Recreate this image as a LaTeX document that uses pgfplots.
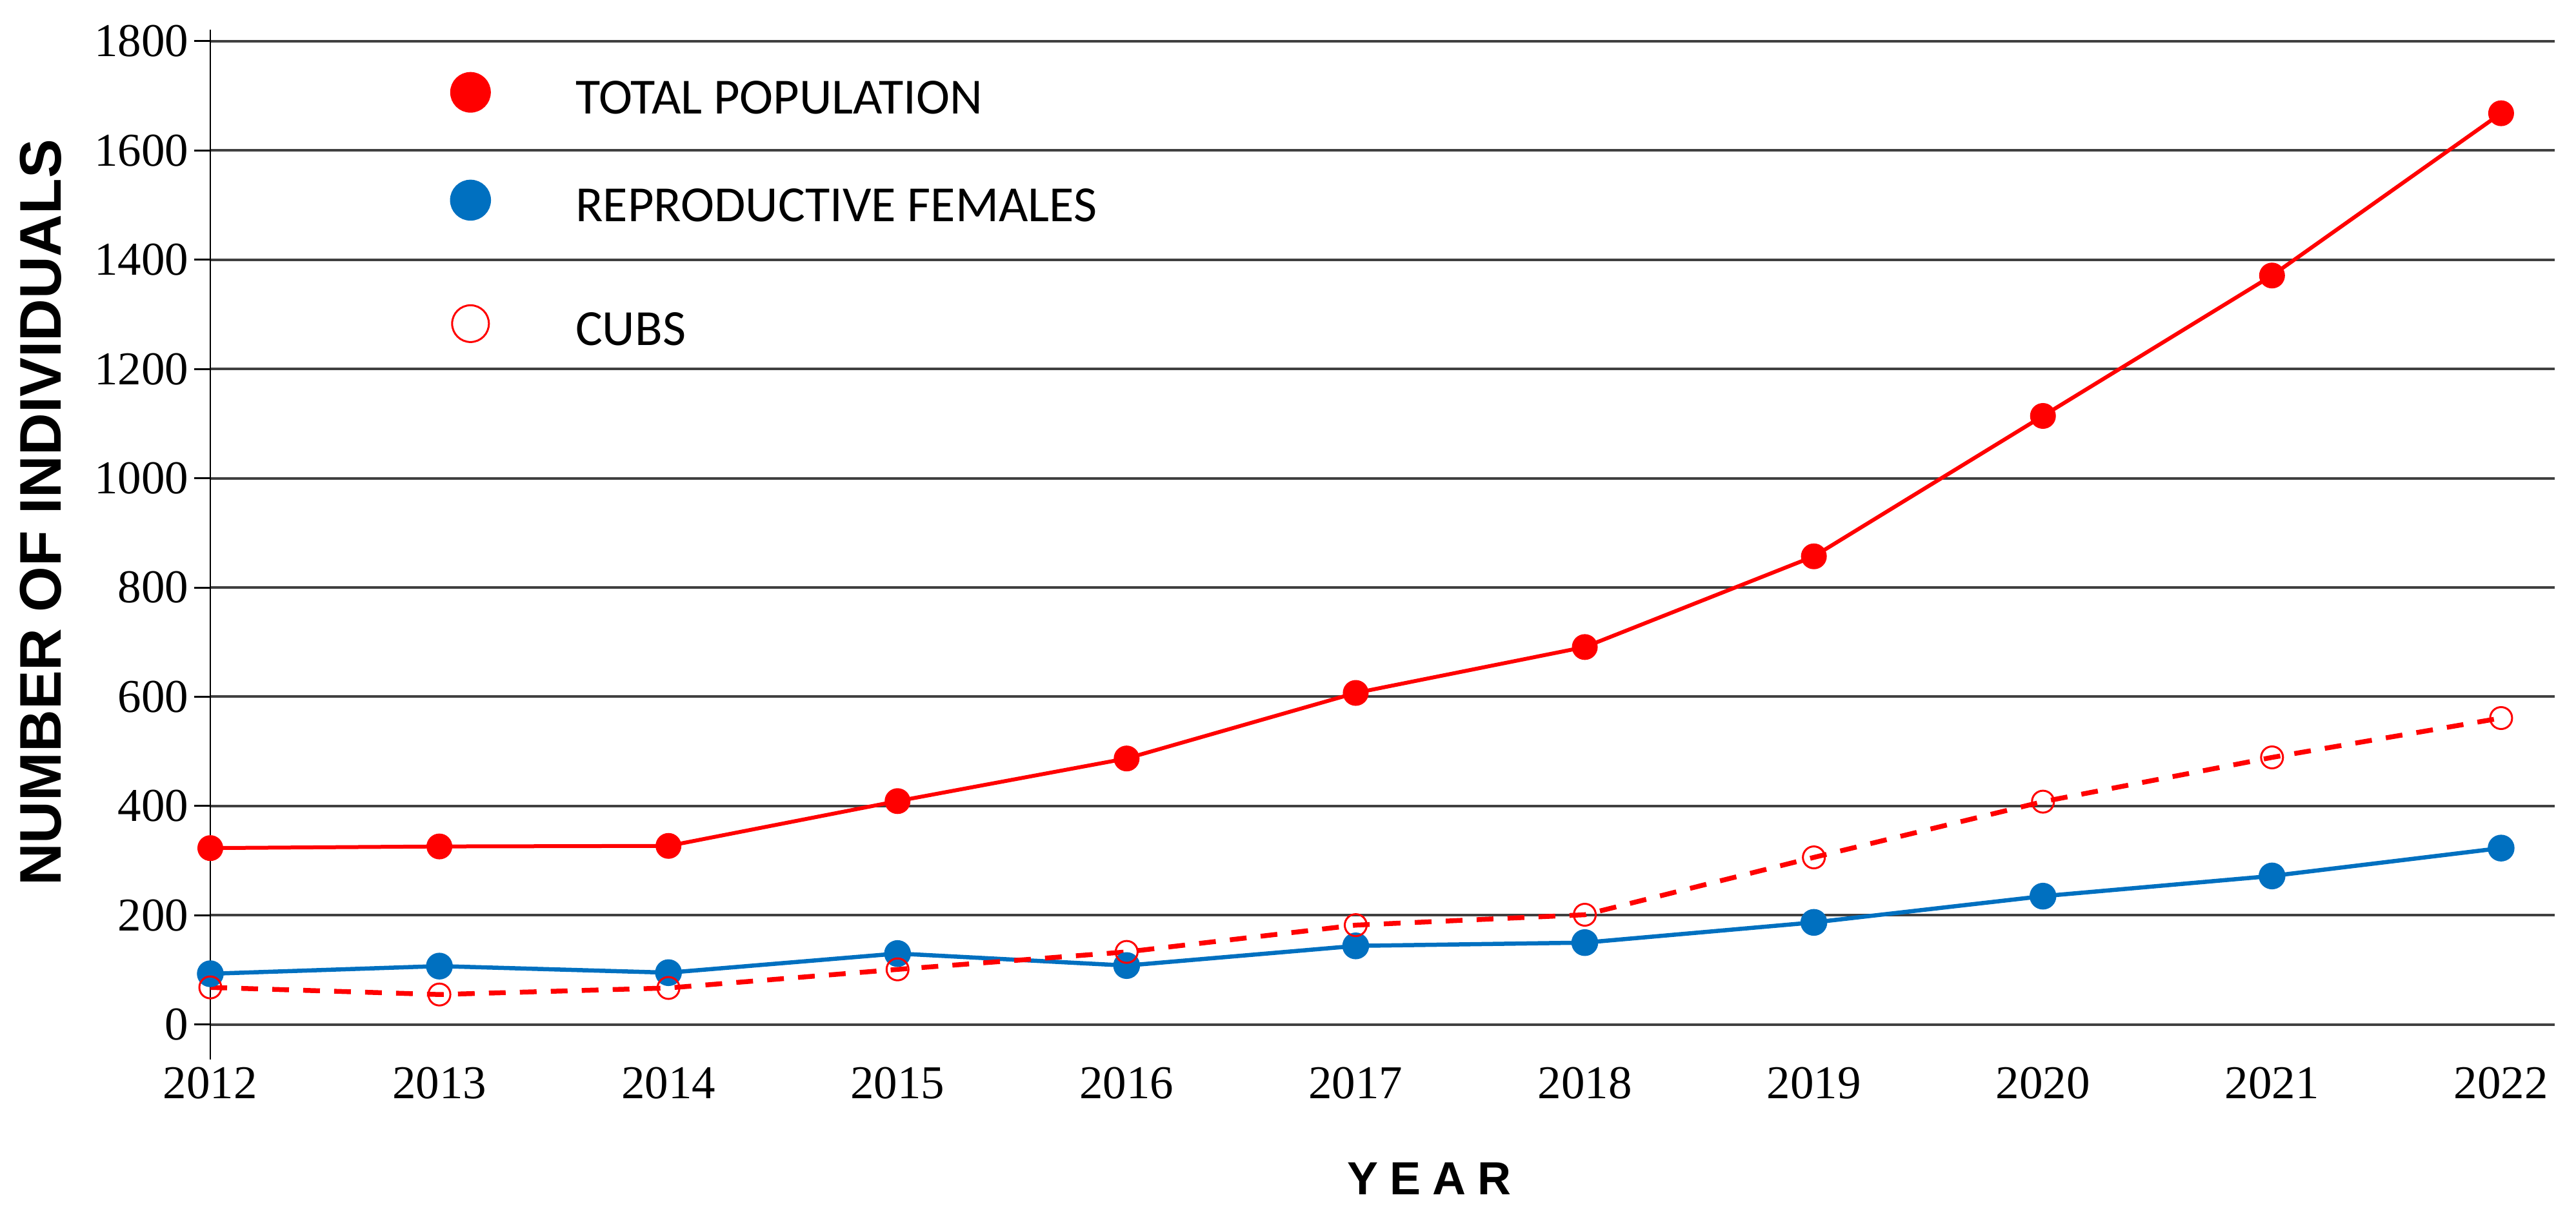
\documentclass[border=0pt]{standalone}
\usepackage{fontspec}
\setmainfont{Liberation Serif}
\newfontfamily\carlito{Carlito}
\newfontfamily\sansb{Liberation Sans}
\usepackage{pgfplots}
\pgfplotsset{compat=1.18}
\definecolor{tred}{HTML}{FF0000}
\definecolor{fblue}{HTML}{0070C0}
\definecolor{gridc}{HTML}{404040}
\pgfplotsset{
  stdlegend/.style={legend image code/.code={\draw[##1, mark size=5.7pt] plot coordinates {(0pt,2.3pt)}; \path (-6pt,2.3pt) (31.8pt,2.3pt);}},
  cubslegend/.style={legend image code/.code={\draw[##1, mark size=5.7pt] plot coordinates {(0pt,2.3pt)}; \path (-6pt,2.3pt) (31.8pt,2.3pt) (0pt,12.1pt);}},
}

\begin{document}
\begin{tikzpicture}
\path[use as bounding box] (0,0) rectangle (798.6pt,376pt);
\begin{axis}[
  at={(65.2pt,47.4pt)}, anchor=south west,
  scale only axis, width=726.8pt, height=319.4pt,
  xmin=2012, xmax=2022.234, ymin=-64, ymax=1821,
  clip=false,
  axis y line*=left, axis x line*=bottom,
  x axis line style={draw=none},
  y axis line style={black, line width=0.5pt, -},
  xtick={2012,2013,...,2022}, ytick={0,200,...,1800},
  xtick style={draw=none},
  ytick style={black, line width=0.6pt},
  tick align=outside, major tick length=5pt,
  ymajorgrids, major grid style={gridc, line width=0.8pt},
  /pgf/number format/1000 sep={},
  /pgf/number format/assume math mode=true,
  ticklabel style={font=\fontsize{14.6}{17}\selectfont},
  yticklabel style={anchor=east, inner sep=0pt, xshift=-1.6pt},
  xticklabel style={anchor=north, inner sep=0pt, yshift=2.8pt},
  xlabel={Y\hspace{3.6pt}E\hspace{3.6pt}A\hspace{3.6pt}R},
  every axis x label/.style={at={([yshift=-36.9pt]axis cs:2017.32,-64)}, anchor=center, inner sep=0pt, font=\sansb\bfseries\fontsize{14.4}{16}\selectfont},
  ylabel={NUMBER OF INDIVIDUALS},
  every axis y label/.style={at={([xshift=-52.5pt]axis cs:2012,937)}, rotate=90, anchor=center, inner sep=0pt, font=\sansb\bfseries\fontsize{18.2}{20}\selectfont},
  legend style={at={(0.1017,0.957)}, anchor=north west, draw=none, fill=none, inner sep=0pt, outer sep=0pt, row sep=19.6pt, column sep=0pt, font=\carlito\fontsize{15.7}{18}\selectfont, nodes={inner sep=0pt}},
  legend cell align=left,
  stdlegend,
]
\addplot[tred, line width=1.2pt, mark=*, mark size=3.4pt] coordinates {
(2012,323) (2013,326) (2014,327) (2015,409) (2016,487) (2017,607) (2018,691) (2019,857) (2020,1114) (2021,1371) (2022,1668)};
\addlegendentry{TOTAL POPULATION}
\addplot[fblue, line width=1.3pt, mark=*, mark size=3.5pt] coordinates {
(2012,93) (2013,107) (2014,95) (2015,130) (2016,108) (2017,144) (2018,150) (2019,187) (2020,235) (2021,272) (2022,323)};
\addlegendentry{REPRODUCTIVE FEMALES}
\addplot[tred, line width=1.5pt, dash pattern=on 5.2pt off 4.4pt, mark=o, mark size=3.4pt, mark options={solid, line width=0.6pt, fill=none}, cubslegend] coordinates {
(2012,68) (2013,55) (2014,67) (2015,101) (2016,133) (2017,182) (2018,201) (2019,306) (2020,408) (2021,489) (2022,561)};
\addlegendentry{CUBS}
\end{axis}
\end{tikzpicture}
\end{document}
